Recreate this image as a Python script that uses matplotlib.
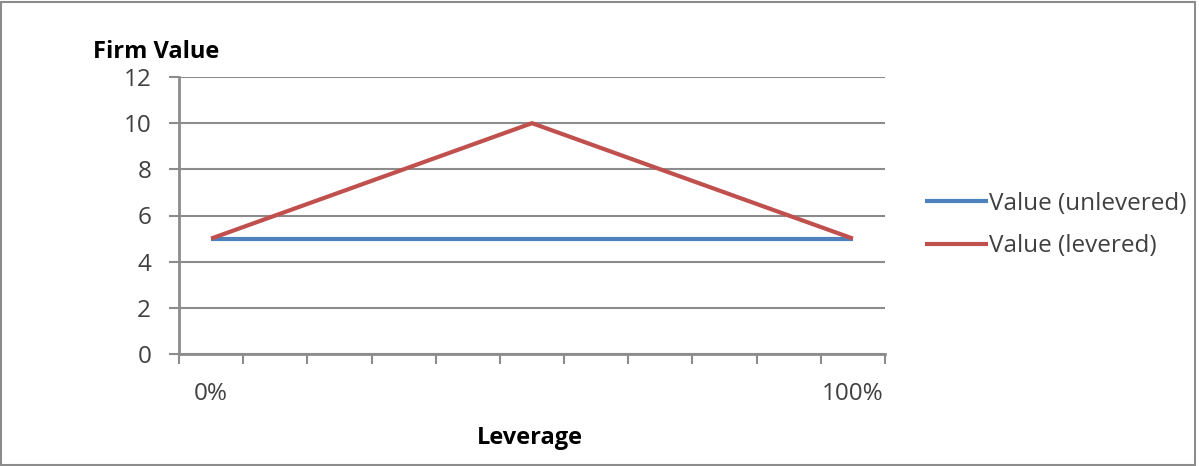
import matplotlib.pyplot as plt
from matplotlib.patches import Rectangle

plt.rcParams['font.family'] = ['Open Sans', 'DejaVu Sans']

leverage = ['0%', '10%', '20%', '30%', '40%', '50%', '60%', '70%', '80%', '90%', '100%']
unlevered = [5, 5, 5, 5, 5, 5, 5, 5, 5, 5, 5]
levered = [5, 6, 7, 8, 9, 10, 9, 8, 7, 6, 5]
shown_labels = ['0%', '', '', '', '', '', '', '', '', '', '100%']

grid_col = '#8c8c8c'
txt_col = '#404040'

fig = plt.figure(figsize=(11.99, 4.66), dpi=100)
ax = fig.add_axes([179 / 1199, 1 - 354 / 466, (885 - 179) / 1199, (354 - 77) / 466])

x = list(range(len(leverage)))
ax.plot(x, unlevered, color='#4f81bd', lw=3.0, label='Value (unlevered)', solid_capstyle='butt')
ax.plot(x, levered, color='#c0504d', lw=3.0, label='Value (levered)', solid_capstyle='butt')

ax.set_xlim(-0.5, len(leverage) - 0.5)
ax.set_ylim(0, 12)
ax.set_yticks(range(0, 13, 2))
ax.yaxis.grid(True, color=grid_col, lw=1.5)
ax.set_axisbelow(True)

ax.set_xticks([i - 0.5 for i in range(len(leverage) + 1)])
ax.set_xticklabels([])
ax.set_xticks(x, minor=True)
ax.set_xticklabels(shown_labels, minor=True)
ax.tick_params(axis='x', which='major', length=7, width=1.5, color=grid_col, direction='out')
ax.tick_params(axis='x', which='minor', length=0, pad=20, labelsize=17.5, labelcolor=txt_col)
ax.tick_params(axis='y', length=7, width=1.5, color=grid_col, labelsize=17.5, labelcolor=txt_col, pad=13)

for s in ['top', 'right']:
    ax.spines[s].set_visible(False)
for s in ['left', 'bottom']:
    ax.spines[s].set_color(grid_col)
    ax.spines[s].set_linewidth(2)

fig.text(93 / 1199, 1 - 52 / 466, 'Firm Value', fontsize=17, fontweight='bold', color='black', va='center', ha='left')
fig.text(530 / 1199, 1 - 438 / 466, 'Leverage', fontsize=17, fontweight='bold', color='black', va='center', ha='center')

leg = ax.legend(loc='center left', bbox_to_anchor=(903 / 1199, 1 - 225 / 466), bbox_transform=fig.transFigure,
                frameon=False, fontsize=17.5, handlelength=2.6, handletextpad=0.05, labelspacing=0.75)
for t in leg.get_texts():
    t.set_color(txt_col)

fig.patches.append(Rectangle((0.001, 0.002), 0.996, 0.994, transform=fig.transFigure,
                             fill=False, edgecolor='#8c8c8c', lw=1.5))

fig.savefig('out.png', dpi=100)
